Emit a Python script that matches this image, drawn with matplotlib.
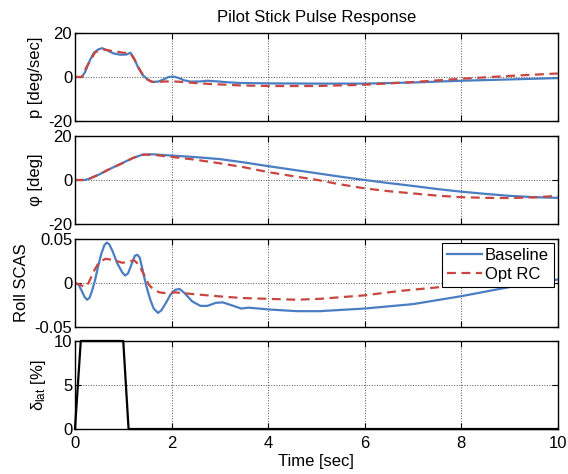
import matplotlib
matplotlib.use("Agg")
import matplotlib.pyplot as plt

plt.rcParams['font.family'] = ['Liberation Sans', 'DejaVu Sans']
plt.rcParams['mathtext.fontset'] = 'custom'
plt.rcParams['mathtext.rm'] = 'Liberation Sans'
plt.rcParams['mathtext.it'] = 'Liberation Sans:italic'
plt.rcParams['axes.unicode_minus'] = False
plt.rcParams['font.size'] = 12

# roll rate p [deg/sec]
t_p_base = [0, 0.145, 0.21, 0.30, 0.39, 0.48, 0.56, 0.66, 0.80, 0.94, 1.06, 1.15, 1.22,
            1.31, 1.40, 1.52, 1.61, 1.72, 1.84, 1.94, 2.05, 2.15, 2.26, 2.40, 2.60, 2.74,
            2.95, 3.16, 3.40, 4, 5, 6, 7, 8, 9, 10]
p_base = [0, 0, 2.3, 7.2, 11.0, 12.5, 13.1, 12.2, 10.7, 10.1, 10.2, 11.0, 8.7,
          4.2, 0.9, -1.35, -2.25, -2.1, -1.05, 0, 0.15, -0.45, -1.5, -2.1, -2.0, -1.7,
          -2.0, -2.4, -2.7, -2.9, -3.0, -3.0, -2.5, -1.7, -1.1, -0.5]
t_p_opt = [0, 0.14, 0.25, 0.42, 0.60, 0.80, 1.01, 1.15, 1.25, 1.36, 1.46, 1.60, 1.81,
           2.01, 2.22, 2.40, 2.82, 3.40, 4, 5, 6, 7, 8, 9, 10]
p_opt = [0, 0, 5.0, 11.3, 12.5, 11.7, 11.0, 10.7, 7.2, 2.7, -0.75, -2.25, -2.1,
         -1.95, -2.25, -2.6, -3.2, -3.8, -4.1, -4.1, -3.5, -2.3, -0.8, 0.5, 1.6]

# bank angle phi [deg]
t_phi = [0, 0.2, 0.3, 0.5, 0.7, 1.0, 1.2, 1.4, 1.6, 2.0, 2.5, 3.0, 3.5, 4.0, 4.5, 5.0,
         5.5, 6.0, 6.5, 7.0, 7.5, 8.0, 8.5, 9.0, 9.5, 10.0]
phi_base = [0, 0, 0.6, 2.5, 4.8, 7.9, 10.0, 11.5, 11.7, 11.1, 10.4, 9.5, 8.0, 6.3, 4.7, 3.1,
            1.5, 0, -1.4, -2.7, -4.1, -5.3, -6.3, -7.2, -7.8, -8.1]
phi_opt = [0, 0, 0.6, 2.5, 4.8, 7.8, 10.0, 11.5, 11.5, 10.5, 9.2, 7.6, 5.8, 3.6, 1.8, 0.1,
           -2.0, -3.8, -5.1, -6.1, -7.1, -7.8, -8.1, -8.2, -7.9, -7.2]

# roll SCAS command
t_scas_base = [0, 0.076, 0.145, 0.20, 0.25, 0.30, 0.35, 0.41, 0.48, 0.55, 0.61, 0.66, 0.71,
               0.78, 0.87, 0.98, 1.04, 1.10, 1.17, 1.24, 1.29, 1.34, 1.40, 1.47, 1.56,
               1.63, 1.72, 1.79, 1.88, 1.98, 2.08, 2.17, 2.26, 2.43, 2.60, 2.74, 2.92,
               3.06, 3.23, 3.44, 3.6, 4.0, 4.59, 5.07, 6.0, 7.0, 8.0, 9.0, 9.5, 10.0]
scas_base = [0, -0.002, -0.0095, -0.016, -0.019, -0.017, -0.0095, 0.002, 0.019, 0.034,
             0.043, 0.046, 0.044, 0.036, 0.023, 0.012, 0.0085, 0.011, 0.021, 0.031, 0.032,
             0.029, 0.015, -0.002, -0.019, -0.029, -0.034, -0.031, -0.023, -0.013,
             -0.0076, -0.0069, -0.011, -0.021, -0.026, -0.026, -0.0225, -0.022, -0.025,
             -0.029, -0.028, -0.030, -0.032, -0.032, -0.029, -0.024, -0.015, -0.0046,
             -0.001, 0.004]
t_scas_opt = [0, 0.11, 0.20, 0.28, 0.39, 0.49, 0.63, 0.80, 0.98, 1.11, 1.22, 1.32, 1.43,
              1.53, 1.63, 1.75, 1.88, 2.08, 2.53, 2.95, 3.44, 4.0, 4.59, 5.07, 6.0, 6.73,
              7.5, 8.0, 9.0, 10.0]
scas_opt = [0, -0.002, -0.0046, 0, 0.0134, 0.023, 0.0275, 0.026, 0.023, 0.024, 0.026,
            0.021, 0.0095, -0.002, -0.0076, -0.0107, -0.0115, -0.0107, -0.013, -0.015,
            -0.017, -0.018, -0.019, -0.018, -0.014, -0.009, -0.005, -0.001, 0.006, 0.011]

# lateral stick input [%]
t_dlat = [0, 0.12, 1.0, 1.11, 10]
dlat = [0, 10, 10, 0, 0]

blue = '#4a7ec3'
red = '#c8463f'

fig = plt.figure(figsize=(5.68, 4.74), dpi=100)
left, width, height = 0.132, 0.850, 0.1857
bottoms = [0.7447, 0.5274, 0.3101, 0.0949]
axes = [fig.add_axes([left, b, width, height]) for b in bottoms]

ax1, ax2, ax3, ax4 = axes
ax1.plot(t_p_base, p_base, color=blue, lw=1.6)
ax1.plot(t_p_opt, p_opt, color=red, lw=1.6, ls='--', dashes=(4, 2.5))
ax1.set_ylim(-20, 20)
ax1.set_yticks([-20, 0, 20])
ax1.set_ylabel('p [deg/sec]')
ax1.set_title('Pilot Stick Pulse Response', fontsize=12, pad=8)

ax2.plot(t_phi, phi_base, color=blue, lw=1.6)
ax2.plot(t_phi, phi_opt, color=red, lw=1.6, ls='--', dashes=(4, 2.5))
ax2.set_ylim(-20, 20)
ax2.set_yticks([-20, 0, 20])
ax2.set_ylabel('φ [deg]')

ax3.plot(t_scas_base, scas_base, color=blue, lw=1.6, label='Baseline')
ax3.plot(t_scas_opt, scas_opt, color=red, lw=1.6, ls='--', dashes=(4, 2.5), label='Opt RC')
ax3.set_ylim(-0.05, 0.05)
ax3.set_yticks([-0.05, 0, 0.05])
ax3.set_yticklabels(['-0.05', '0', '0.05'])
ax3.set_ylabel('Roll SCAS')
leg = ax3.legend(loc='upper right', fancybox=False, edgecolor='black', framealpha=1,
                 handlelength=2.1, borderaxespad=0.25, borderpad=0.3, labelspacing=0.25,
                 handletextpad=0.15, fontsize=12)
leg.get_frame().set_linewidth(0.8)

ax4.plot(t_dlat, dlat, color='black', lw=1.6, clip_on=False)
ax4.set_ylim(0, 10)
ax4.set_yticks([0, 5, 10])
ax4.set_ylabel(r'δ$_{\mathrm{lat}}$ [%]')
ax4.set_xlabel('Time [sec]', labelpad=2)

for ax in axes:
    ax.set_xlim(0, 10)
    ax.set_xticks([0, 2, 4, 6, 8, 10])
    ax.grid(True, ls=':', color='#555555', lw=0.7)
    ax.tick_params(direction='in', top=True, right=True, length=4, width=0.8, pad=2)
    for s in ax.spines.values():
        s.set_linewidth(1.0)
    if ax is not ax4:
        ax.set_xticklabels([])
ax4.tick_params(axis='x', pad=5)

fig.savefig('out.png', dpi=100)
